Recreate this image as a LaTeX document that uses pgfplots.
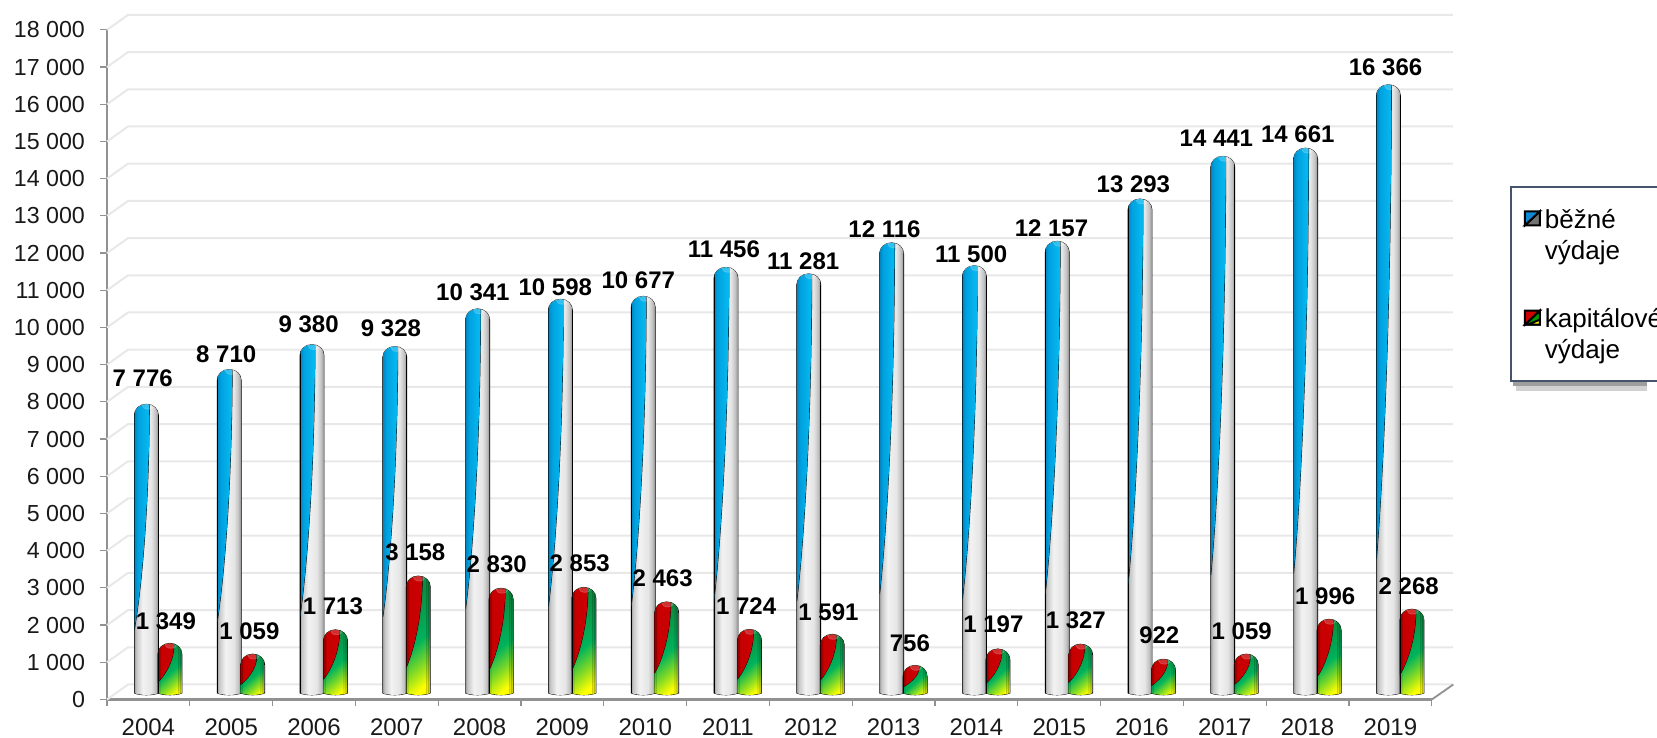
\documentclass[border=0pt]{standalone}
\usepackage{fontspec}
\setmainfont{Liberation Sans}
\usepackage{pgfplots}
\usepackage{pgfplotstable}
\pgfplotsset{compat=1.18}

% one reference pixel = 0.5pt
\definecolor{gridgray}{RGB}{232,232,232}
\definecolor{axisgray}{RGB}{145,145,145}
\definecolor{legendline}{RGB}{68,84,106}

\pgfdeclarehorizontalshading{cylgray}{100bp}{
  rgb(0bp)=(0.62,0.62,0.62); rgb(25bp)=(0.62,0.62,0.62); rgb(29bp)=(0.78,0.78,0.78);
  rgb(42bp)=(0.95,0.95,0.95); rgb(60bp)=(0.90,0.90,0.90); rgb(69bp)=(0.76,0.76,0.76);
  rgb(75bp)=(0.55,0.55,0.55); rgb(100bp)=(0.55,0.55,0.55)}
\pgfdeclarehorizontalshading{cylblue}{100bp}{
  rgb(0bp)=(0,0.52,0.76); rgb(25bp)=(0,0.52,0.76); rgb(32bp)=(0,0.63,0.87);
  rgb(50bp)=(0.02,0.71,0.93); rgb(75bp)=(0.10,0.74,0.95); rgb(100bp)=(0.10,0.74,0.95)}
\pgfdeclarehorizontalshading{cylred}{100bp}{
  rgb(0bp)=(0.62,0,0); rgb(25bp)=(0.62,0,0); rgb(32bp)=(0.78,0,0);
  rgb(60bp)=(0.80,0,0.02); rgb(75bp)=(0.72,0,0.02); rgb(100bp)=(0.72,0,0.02)}
\pgfdeclareverticalshading{greenyellow}{100bp}{
  rgb(0bp)=(1,1,0); rgb(22bp)=(1,1,0); rgb(34bp)=(0.50,0.85,0.15);
  rgb(47bp)=(0,0.70,0.36); rgb(72bp)=(0.05,0.55,0.25); rgb(100bp)=(0.05,0.55,0.25)}

% bar drawn around the data point; \barval is the value of the point, \xo its offset
\newcommand{\barshape}{(\xo-12,\bott) -- (\xo-12,\topp-11) .. controls (\xo-12,\topp-5) and (\xo-7,\topp) .. (\xo,\topp)
  .. controls (\xo+7,\topp) and (\xo+12,\topp-5) .. (\xo+12,\topp-11) -- (\xo+12,\bott)
  .. controls (\xo+7,\bott-2.5) and (\xo-7,\bott-2.5) .. (\xo-12,\bott) -- cycle}
\newcommand{\barsetup}{%
  \pgfmathsetmacro\hgt{\barval*0.0372}%
  \pgfmathsetmacro\bott{6.5-\hgt}%
  \pgfmathsetmacro\topp{6}%
  \pgfmathsetmacro\lenw{0.78*(\topp-\bott)}%
}
\newcommand{\wedgeshape}[1]{(\xo-12,\topp+1) -- (\xo+#1,\topp+1) -- (\xo+#1,\topp-3)
  .. controls (\xo+#1-0.5,\topp-0.5*\lenw) and (\xo-6,\topp-0.85*\lenw) .. (\xo-12,\topp-\lenw) -- cycle}

\pgfdeclareplotmark{bluebar}{%
  \barsetup
  \def\xo{-2}%
  \begin{scope}[x=0.5pt,y=0.5pt]
    \clip \barshape;
    \shade[shading=cylgray] (\xo-12,\bott-3) rectangle (\xo+12,\topp+1);
    \begin{scope}
      \clip \wedgeshape{3};
      \shade[shading=cylblue] (\xo-12,\bott-3) rectangle (\xo+12,\topp+1);
    \end{scope}
    \fill[white,opacity=0.18] (\xo+2,\topp-1) ellipse (6 and 4);
  \end{scope}}
\pgfdeclareplotmark{redbar}{%
  \barsetup
  \def\xo{21.5}%
  \begin{scope}[x=0.5pt,y=0.5pt]
    \clip \barshape;
    \shade[shading=greenyellow,shading angle=40] (\xo-12,\bott-3) rectangle (\xo+12,\topp+1);
    \begin{scope}
      \clip \wedgeshape{4};
      \shade[shading=cylred] (\xo-12,\bott-3) rectangle (\xo+12,\topp+1);
    \end{scope}
    \fill[black,opacity=0.10] (\xo+8,\bott-3) rectangle (\xo+12,\topp+1);
    \fill[black,opacity=0.10] (\xo+10,\bott-3) rectangle (\xo+12,\topp+1);
    \fill[black,opacity=0.08] (\xo-12,\bott-3) rectangle (\xo-10,\topp+1);
    \fill[white,opacity=0.18] (\xo+1,\topp-1) ellipse (6 and 4);
  \end{scope}}

% v = value, dx dy = place of the data label (pixels from tick centre and value)
\pgfplotstableread{
x    v      dx    dy
0.5  7776   -5.7  31.9
1.5  8710   -5.0  21.5
2.5  9380   -5.4  26.2
3.5  9328   -5.8  23.8
4.5  10341  -6.7  22.1
5.5  10598  -7.1  17.9
6.5  10677  -6.9  22.3
7.5  11456  -4.1  23.9
8.5  11281  -7.6  18.8
9.5  12116  -9.1  19.5
10.5 11500  -5.2  17.0
11.5 12157  -7.7  19.0
12.5 13293  -8.6  21.1
13.5 14441  -8.4  23.9
14.5 14661  -9.8  19.9
15.5 16366  -4.9  23.1
}\bezne
\pgfplotstableread{
x    v     dx    dy
0.5  1349  17.5  27.9
1.5  1059  18.2  29.2
2.5  1713  18.9  29.2
3.5  3158  18.5  29.3
4.5  2830  17.1  29.9
5.5  2853  17.3  30.1
6.5  2463  17.4  29.8
7.5  1724  18.1  28.8
8.5  1591  17.7  28.4
9.5  756   16.3  27.8
10.5 1197  17.0  30.4
11.5 1327  16.6  29.8
12.5 922   17.3  30.1
13.5 1059  16.9  29.2
14.5 1996  17.6  29.2
15.5 2268  18.3  28.6
}\kapitalove

\newcommand{\legcell}[2]{\begin{tabular}[t]{@{}p{90pt}@{}}#1\\#2\end{tabular}}

\pgfplotsset{
  barseries/.style={forget plot,scatter,only marks,mark=#1,
    scatter/use mapped color={draw=none,fill=none},
    visualization depends on=rawy\as\barval},
  labelseries/.style={forget plot,only marks,mark=none,point meta=explicit,
    nodes near coords={\pgfmathprintnumber[fixed,precision=0]{\pgfplotspointmeta}},
    nodes near coords align=center,
    nodes near coords style={anchor=center,inner sep=0pt,
      font=\fontsize{12}{14}\selectfont\bfseries,text=black}},
}

\begin{document}
\begin{tikzpicture}
  \path[use as bounding box,clip] (0,0.9pt) rectangle (828.5pt,369.5pt);
  \begin{axis}[
    at={(53.5pt,19.75pt)},
    anchor=south west,
    scale only axis,
    width=662.4pt,
    height=334.8pt,
    clip=false,
    xmin=0, xmax=16,
    ymin=0, ymax=18000,
    axis lines=left,
    axis line style={-,draw=axisgray,line width=1.2pt},
    ytick={0,1000,2000,3000,4000,5000,6000,7000,8000,9000,10000,11000,12000,13000,14000,15000,16000,17000,18000},
    xtick={0.5,1.5,...,15.5},
    xticklabels={2004,2005,2006,2007,2008,2009,2010,2011,2012,2013,2014,2015,2016,2017,2018,2019},
    minor xtick={0,1,...,16},
    tick align=outside,
    major tick length=3.5pt,
    minor tick length=3.5pt,
    major x tick style={draw=none},
    tick style={draw=axisgray,line width=0.6pt},
    scaled y ticks=false,
    /pgf/number format/assume math mode=true,
    /pgf/number format/1000 sep={\ },
    ticklabel style={font=\fontsize{11.6}{13}\selectfont,text=black!90},
    xticklabel style={yshift=-2.8pt,font=\fontsize{12}{13}\selectfont},
    yticklabel style={xshift=-4pt},
    legend style={
      at={(1.059,0.767)},
      anchor=north west,
      draw=legendline,
      line width=1pt,
      fill=white,
      font=\fontsize{13}{15.5}\selectfont,
      nodes={text depth=16.5pt},
      inner xsep=6.5pt,
      inner ysep=8pt,
      row sep=18.3pt,
      /tikz/every even column/.append style={column sep=1pt},
    },
    legend cell align=left,
  ]
  % back wall and floor
  \pgfplotsinvokeforeach{0,1000,2000,3000,4000,5000,6000,7000,8000,9000,10000,11000,12000,13000,14000,15000,16000,17000,18000}{
    \draw[gridgray,line width=1pt] (axis cs:0,#1) -- ++(10.5pt,7.5pt) -- ++(662.4pt,0pt);
  }
  \draw[axisgray,line width=0.9pt] (axis cs:16,0) -- ++(10.75pt,7.5pt);

  % soft shadow under the legend box
  \fill[black!18] (axis cs:17.02,13600) rectangle (axis cs:18.6,8300);
  \fill[black!38] (axis cs:16.98,13680) rectangle (axis cs:18.6,8430);

  \addplot[barseries=bluebar] table[x=x,y=v] {\bezne};
  \addplot[barseries=redbar] table[x=x,y=v] {\kapitalove};

  % data labels sit at dx,dy pixels from the point
  \addplot[labelseries] table[x expr=\thisrow{x}+\thisrow{dx}/82.8,
    y expr=\thisrow{v}+\thisrow{dy}/0.0372,meta=v] {\bezne};
  \addplot[labelseries] table[x expr=\thisrow{x}+\thisrow{dx}/82.8,
    y expr=\thisrow{v}+\thisrow{dy}/0.0372,meta=v] {\kapitalove};

  \addlegendimage{legend image code/.code={
      \path[fill=black!55] (7.5pt,11.5pt) -- (7.5pt,4.5pt) -- (0pt,4.5pt) -- cycle;
      \path[fill=cyan!70!blue] (0pt,11.5pt) -- (7.5pt,11.5pt) -- (0pt,4.5pt) -- cycle;
  }}
  \addlegendentry{\legcell{běžné}{výdaje}}
  \addlegendimage{legend image code/.code={
      \path[fill=green!60!black] (7.5pt,11.5pt) -- (7.5pt,4.5pt) -- (0pt,4.5pt) -- cycle;
      \path[fill=yellow] (7.5pt,4.5pt) -- (1.5pt,4.5pt) -- (7.5pt,7pt) -- cycle;
      \path[fill=red!80!black] (0pt,11.5pt) -- (7.5pt,11.5pt) -- (0pt,4.5pt) -- cycle;
  }}
  \addlegendentry{\legcell{kapitálové}{výdaje}}
  \end{axis}
\end{tikzpicture}
\end{document}
